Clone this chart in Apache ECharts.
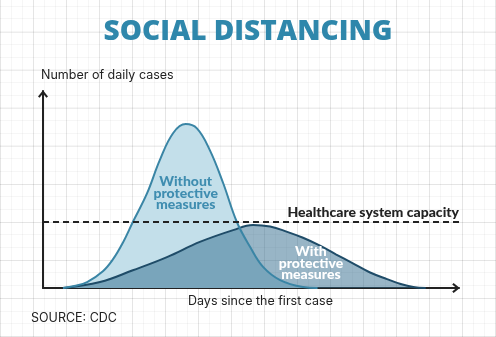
<!DOCTYPE html>
<html>
<head>
<meta charset="utf-8">
<script src="https://cdn.jsdelivr.net/npm/echarts@6/dist/echarts.min.js"></script>
<style>
  html, body { margin: 0; padding: 0; }
  body {
    width: 496px; height: 337px; overflow: hidden;
    background-color: #ffffff;
    background-image:
      repeating-linear-gradient(90deg, rgba(0,0,0,0.07) 0 1px, transparent 1px 33px),
      repeating-linear-gradient(0deg, rgba(0,0,0,0.07) 0 1px, transparent 1px 38px),
      repeating-linear-gradient(90deg, rgba(0,0,0,0.035) 0 1px, transparent 1px 11px),
      repeating-linear-gradient(0deg, rgba(0,0,0,0.035) 0 1px, transparent 1px 12.7px);
  }
  #chart { width: 496px; height: 337px; }
</style>
</head>
<body>
<div id="chart"></div>
<script>
// Epidemic curve without protective measures: [day, daily cases]
const withoutMeasures = [
  [4.8, 0], [7.5, 1], [10.6, 3], [14.4, 8.5], [16.8, 14.5], [19.2, 23], [21.6, 33.5],
  [25, 48], [28.1, 65], [31.3, 78.7], [34.3, 83.2], [37, 81], [40.1, 70],
  [43.3, 53.3], [46.6, 33.5], [49.8, 20.8], [52.9, 10.7], [57, 4], [62.5, 0.5], [66, 0]
];
// Flattened curve with protective measures
const withMeasures = [
  [4.8, 0], [13.7, 3], [21.6, 9], [29.8, 15.7], [37.7, 23.4], [45.7, 29.4],
  [50.5, 32], [54.6, 31.2], [58.7, 28.5], [62.5, 25.5], [66.6, 21.5], [70.5, 17],
  [74.5, 12.5], [78.5, 8], [82.7, 4.5], [86, 2], [89, 0.5], [92, 0]
];
// Healthcare system capacity level
const capacity = 33.5;

const titleText = 'SOCIAL DISTANCING';
const yAxisTitle = 'Number of daily cases';
const xAxisTitle = 'Days since the first case';
const sourceText = 'SOURCE: CDC';
const capacityLabel = 'Healthcare system capacity';
const withoutLabel = 'Without\nprotective\nmeasures';
const withLabel = 'With\nprotective\nmeasures';

const BODY_FONT = 'Inter, "Open Sans", sans-serif';
const HEAVY_FONT = 'Lato, "Open Sans", sans-serif';
const TITLE_FONT = '"Open Sans", Lato, sans-serif';
const ink = '#222222';
const arrowPath = 'path://M5,0 L10,6.2 L8.4,7.6 L5,3.4 L1.6,7.6 L0,6.2 Z';

const chart = echarts.init(document.getElementById('chart'), null, { renderer: 'canvas' });

chart.setOption({
  backgroundColor: 'transparent',
  animation: false,
  title: [
    {
      text: titleText, left: 'center', top: 13,
      textStyle: { fontFamily: TITLE_FONT, fontWeight: 800, fontSize: 28, color: '#2f87ab' }
    },
    {
      text: yAxisTitle, left: 36, top: 64,
      textStyle: { fontFamily: BODY_FONT, fontWeight: 'normal', fontSize: 12.5, color: ink }
    },
    {
      text: xAxisTitle, left: 183, top: 290,
      textStyle: { fontFamily: BODY_FONT, fontWeight: 'normal', fontSize: 12.5, color: ink }
    },
    {
      text: sourceText, left: 26, top: 307,
      textStyle: { fontFamily: BODY_FONT, fontWeight: 'normal', fontSize: 12.5, color: ink }
    }
  ],
  grid: { left: 43, right: 37, top: 91, bottom: 49 },
  xAxis: {
    type: 'value', min: 0, max: 100,
    axisLine: {
      show: true, onZero: false,
      lineStyle: { color: ink, width: 2 },
      symbol: ['none', arrowPath], symbolSize: [10, 8], symbolOffset: [0, -3]
    },
    axisTick: { show: false }, axisLabel: { show: false }, splitLine: { show: false }
  },
  yAxis: {
    type: 'value', min: 0, max: 100,
    axisLine: {
      show: true, onZero: false,
      lineStyle: { color: ink, width: 2 },
      symbol: ['none', arrowPath], symbolSize: [10, 8], symbolOffset: [0, -3]
    },
    axisTick: { show: false }, axisLabel: { show: false }, splitLine: { show: false }
  },
  series: [
    {
      name: 'Without protective measures (area)',
      type: 'line', data: withoutMeasures, smooth: 0.4, showSymbol: false, z: 2,
      lineStyle: { width: 0 },
      areaStyle: { color: '#c3dfea', opacity: 1 },
      markPoint: {
        symbol: 'circle', symbolSize: 0,
        data: [{ coord: [34.3, 48] }],
        label: {
          show: true, formatter: withoutLabel, position: 'inside',
          fontFamily: HEAVY_FONT, fontWeight: 900, fontSize: 14, lineHeight: 11.5,
          color: '#3f8db0'
        }
      }
    },
    {
      name: 'With protective measures',
      type: 'line', data: withMeasures, smooth: 0.4, showSymbol: false, z: 3,
      lineStyle: { color: '#1f4c68', width: 2 },
      areaStyle: { color: 'rgba(44, 104, 139, 0.7)' },
      markPoint: {
        symbol: 'circle', symbolSize: 0,
        data: [{ coord: [64.4, 12.5] }],
        label: {
          show: true, formatter: withLabel, position: 'inside',
          fontFamily: HEAVY_FONT, fontWeight: 900, fontSize: 14, lineHeight: 11.5,
          color: '#ffffff'
        }
      },
      markLine: {
        silent: true, symbol: ['none', 'none'],
        lineStyle: { color: ink, width: 2, type: [6, 4] },
        label: {
          show: true, position: 'insideEndTop', formatter: capacityLabel,
          fontFamily: HEAVY_FONT, fontWeight: 900, fontSize: 14, color: ink, distance: [0, 3]
        },
        data: [{ yAxis: capacity }]
      }
    },
    {
      name: 'Without protective measures',
      type: 'line', data: withoutMeasures, smooth: 0.4, showSymbol: false, z: 4,
      lineStyle: { color: '#3a85a5', width: 2 }
    }
  ]
});
</script>
</body>
</html>
